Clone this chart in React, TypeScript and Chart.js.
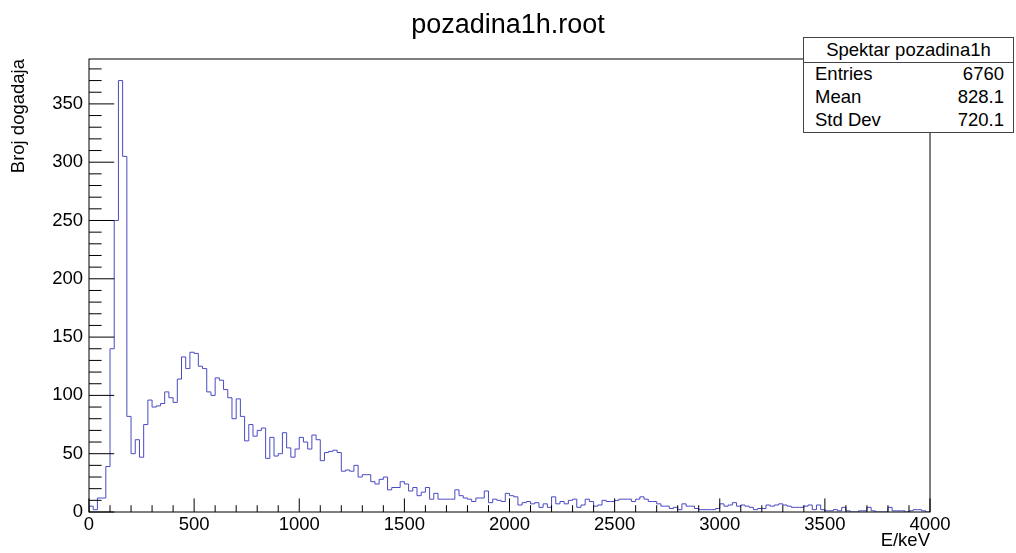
import React, { useEffect, useRef } from 'react';
import { Chart, registerables } from 'chart.js';

Chart.register(...registerables);

// ---------- data ----------
const TITLE = 'pozadina1h.root';
const X_TITLE = 'E/keV';
const Y_TITLE = 'Broj dogadaja';

const X_MIN = 0;
const X_MAX = 4000;
const Y_MAX = 388.5;
const BIN_WIDTH = 20;

// counts per 20 keV bin, 0 .. 4000 keV (200 bins)
const COUNTS: number[] = [
  5, 2, 12, 12, 39, 140, 250, 370, 305, 82,
  50, 62, 47, 75, 96, 90, 91, 93, 103, 98,
  94, 114, 133, 123, 137, 136, 125, 123, 103, 100,
  115, 113, 105, 98, 80, 97, 82, 61, 75, 65,
  70, 72, 46, 64, 48, 50, 68, 55, 47, 54,
  64, 60, 54, 66, 62, 44, 51, 52, 53, 51,
  35, 36, 35, 40, 30, 32, 32, 26, 24, 28,
  30, 19, 21, 21, 26, 24, 18, 21, 14, 17,
  21, 11, 16, 11, 11, 11, 11, 19, 14, 12,
  11, 9, 12, 12, 18, 8, 11, 10, 9, 16,
  14, 13, 6, 8, 9, 7, 8, 4, 7, 4,
  13, 7, 9, 7, 10, 11, 4, 6, 11, 9,
  5, 6, 10, 9, 9, 10, 11, 11, 11, 9,
  11, 13, 11, 9, 9, 7, 5, 5, 3, 4,
  2, 7, 5, 5, 3, 2, 2, 2, 2, 3,
  7, 5, 6, 8, 5, 6, 5, 4, 2, 3,
  3, 6, 5, 6, 7, 6, 5, 4, 4, 4,
  5, 6, 2, 6, 2, 1, 1, 2, 1, 4,
  1, 0, 0, 1, 1, 4, 1, 0, 0, 0,
  4, 1, 1, 1, 0, 1, 2, 2, 1, 0,
];

const X_MAJOR_STEP = 500;
const X_MINOR_STEP = 100;
const Y_MAJOR_STEP = 50;
const Y_MINOR_STEP = 10;

const STATS_TITLE = 'Spektar pozadina1h';
const STATS_LABELS = ['Entries', 'Mean', 'Std Dev'];
const STATS_VALUES = ['6760', '828.1', '720.1'];

// ---------- style ----------
const FONT = "'Liberation Sans', Arial, Helvetica, sans-serif";
const LINE_COLOR = '#4a4ac4';

const framePlugin = {
  id: 'rootFrame',
  afterDraw(chart: any) {
    const { ctx, chartArea: a, scales } = chart;
    const xs = scales.x;
    const ys = scales.y;
    ctx.save();
    ctx.strokeStyle = '#000';
    ctx.lineWidth = 1;
    ctx.strokeRect(a.left, a.top, a.right - a.left, a.bottom - a.top);
    const xMajorLen = 0.03 * (a.bottom - a.top);
    const yMajorLen = 0.03 * (a.right - a.left);
    ctx.beginPath();
    for (let v = X_MIN; v <= X_MAX; v += X_MINOR_STEP) {
      const px = xs.getPixelForValue(v);
      const len = v % X_MAJOR_STEP === 0 ? xMajorLen : xMajorLen / 2;
      ctx.moveTo(px, a.bottom);
      ctx.lineTo(px, a.bottom - len);
    }
    for (let v = 0; v <= Y_MAX; v += Y_MINOR_STEP) {
      const py = ys.getPixelForValue(v);
      const len = v % Y_MAJOR_STEP === 0 ? yMajorLen : yMajorLen / 2;
      ctx.moveTo(a.left, py);
      ctx.lineTo(a.left + len, py);
    }
    ctx.stroke();
    ctx.restore();
  },
};

export default function App() {
  const canvasRef = useRef<HTMLCanvasElement | null>(null);

  useEffect(() => {
    const canvas = canvasRef.current;
    if (!canvas) return;

    const points: { x: number; y: number }[] = [{ x: X_MIN, y: 0 }];
    COUNTS.forEach((c, i) => points.push({ x: X_MIN + i * BIN_WIDTH, y: c }));
    const end = X_MIN + COUNTS.length * BIN_WIDTH;
    points.push({ x: end, y: COUNTS[COUNTS.length - 1] });
    points.push({ x: end, y: 0 });

    const tickFont = { family: FONT, size: 18.5 };

    const chart = new Chart(canvas, {
      type: 'line',
      data: {
        datasets: [
          {
            data: points,
            borderColor: LINE_COLOR,
            borderWidth: 1,
            pointRadius: 0,
            stepped: true,
            fill: false,
            tension: 0,
          } as any,
        ],
      },
      options: {
        responsive: false,
        animation: false,
        events: [],
        layout: { padding: { top: 59, right: 86, left: 0, bottom: 0 } },
        plugins: {
          legend: { display: false },
          tooltip: { enabled: false },
          title: { display: false },
        },
        scales: {
          x: {
            type: 'linear',
            min: X_MIN,
            max: X_MAX,
            border: { display: false },
            grid: { display: false, drawTicks: false },
            ticks: {
              stepSize: X_MAJOR_STEP,
              includeBounds: false,
              autoSkip: false,
              maxRotation: 0,
              padding: 1.5,
              color: '#000',
              font: tickFont,
              callback: (v: any) => String(v),
            },
            title: {
              display: true,
              text: X_TITLE,
              align: 'end',
              color: '#000',
              font: tickFont,
              padding: { top: 0, bottom: 1 },
            },
            afterFit(scale: any) {
              scale.height = 41;
              scale.paddingLeft = 0;
              scale.paddingRight = 0;
            },
          } as any,
          y: {
            type: 'linear',
            min: 0,
            max: Y_MAX,
            border: { display: false },
            grid: { display: false, drawTicks: false },
            ticks: {
              stepSize: Y_MAJOR_STEP,
              includeBounds: false,
              padding: 6,
              color: '#000',
              font: tickFont,
              callback: (v: any) => String(v),
            },
            title: {
              display: true,
              text: Y_TITLE,
              align: 'end',
              color: '#000',
              font: tickFont,
              padding: { top: 7.4, bottom: 0 },
            },
            afterFit(scale: any) {
              scale.width = 89;
              scale.paddingTop = 0;
              scale.paddingBottom = 0;
            },
          } as any,
        },
      },
      plugins: [framePlugin],
    });

    return () => chart.destroy();
  }, []);

  const statsFont: React.CSSProperties = {
    position: 'absolute',
    fontFamily: FONT,
    fontSize: '18.5px',
    lineHeight: '18.5px',
    color: '#000',
    whiteSpace: 'nowrap',
  };
  const rowTops = [64.8, 88.3, 111.3];

  return (
    <div
      style={{
        position: 'absolute',
        left: 0,
        top: 0,
        width: 1016,
        height: 553,
        background: '#fff',
        overflow: 'hidden',
      }}
    >
      <canvas ref={canvasRef} width={1016} height={553} style={{ display: 'block' }} />
      <div
        style={{
          position: 'absolute',
          left: 0,
          width: 1016,
          top: 11,
          textAlign: 'center',
          fontFamily: FONT,
          fontSize: '27px',
          lineHeight: '27px',
          color: '#000',
        }}
      >
        {TITLE}
      </div>
      <div
        style={{
          position: 'absolute',
          left: 803,
          top: 37,
          width: 211,
          height: 96,
          boxSizing: 'border-box',
          border: '1px solid #444',
          background: '#fff',
        }}
      />
      <div
        style={{
          position: 'absolute',
          left: 803,
          top: 62,
          width: 211,
          height: 1,
          background: '#444',
        }}
      />
      <div style={{ ...statsFont, left: 803, width: 211, top: 40.6, textAlign: 'center' }}>{STATS_TITLE}</div>
      {STATS_LABELS.map((lab, i) => (
        <div key={'l' + i} style={{ ...statsFont, left: 815, top: rowTops[i] }}>
          {lab}
        </div>
      ))}
      {STATS_VALUES.map((val, i) => (
        <div key={'v' + i} style={{ ...statsFont, right: 1016 - 1004, top: rowTops[i], textAlign: 'right' }}>
          {val}
        </div>
      ))}
    </div>
  );
}
